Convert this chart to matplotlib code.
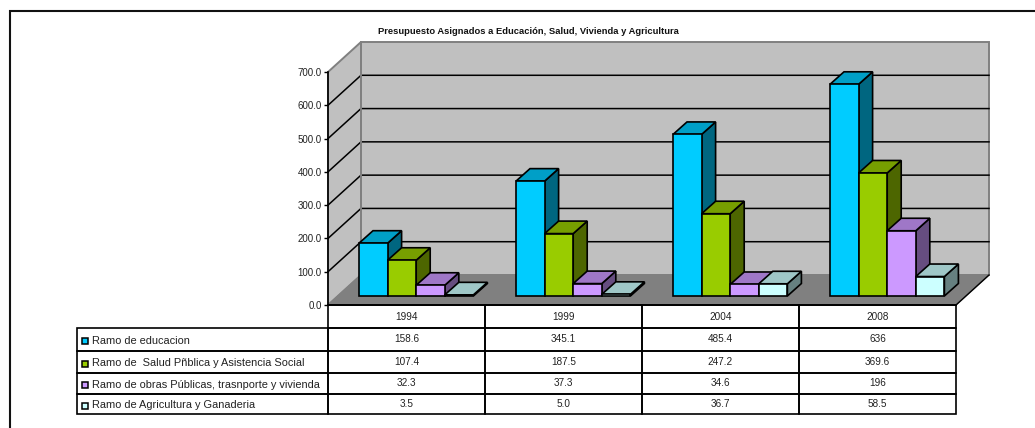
import matplotlib
matplotlib.use("Agg")
import matplotlib.pyplot as plt
from matplotlib.patches import Polygon, Rectangle
import matplotlib.colors as mc

plt.rcParams['font.family'] = ['Liberation Sans', 'DejaVu Sans']

title = "Presupuesto Asignados a Educación, Salud, Vivienda y Agricultura"
years = ["1994", "1999", "2004", "2008"]
series_names = ["Ramo de educacion",
                "Ramo de  Salud Pñblica y Asistencia Social",
                "Ramo de obras Públicas, trasnporte y vivienda",
                "Ramo de Agricultura y Ganaderia"]
educacion = [158.6, 345.1, 485.4, 636]
salud = [107.4, 187.5, 247.2, 369.6]
obras = [32.3, 37.3, 34.6, 196]
agricultura = [3.5, 5.0, 36.7, 58.5]
table_text = [["158.6", "345.1", "485.4", "636"],
              ["107.4", "187.5", "247.2", "369.6"],
              ["32.3", "37.3", "34.6", "196"],
              ["3.5", "5.0", "36.7", "58.5"]]
yticks = [0, 100, 200, 300, 400, 500, 600, 700]
colors = ["#00CCFF", "#99CC00", "#CC99FF", "#CCFFFF"]

W, H = 1035, 428
fig = plt.figure(figsize=(W/100, H/100), dpi=100)
fig.patch.set_facecolor("white")

# page frame: only the top and left edges fall inside the picture
bg = fig.add_axes([0, 0, 1, 1], zorder=0)
bg.set_xlim(0, W); bg.set_ylim(H, 0); bg.axis("off")
bg.plot([W, 9.5, 9.5], [10.5, 10.5, H], color="#111111", lw=1.5, solid_joinstyle="miter")

# plot axes: front plane of the 3D box
L, R, B, T = 328, 956, 305, 72
ax = fig.add_axes([L/W, 1-B/H, (R-L)/W, (B-T)/H], zorder=1)
ax.set_xlim(0, 4); ax.set_ylim(0, 700)
ax.patch.set_alpha(0)
for s in ["top", "right", "bottom"]:
    ax.spines[s].set_visible(False)
ax.spines["left"].set_linewidth(1.2)
ax.set_xticks([])
ax.set_yticks(yticks)
ax.set_yticklabels([f"{v:.1f}" for v in yticks], fontsize=7, color="#222222")
ax.tick_params(axis="y", length=3.2, width=1, pad=1.2)

px = 4/(R-L)      # x data units per pixel
py = 700/(B-T)    # y data units per pixel
dX, dY = 33*px, 30*py   # wall depth
top = 700

# walls
ax.add_patch(Polygon([(dX, dY), (4+dX, dY), (4+dX, top+dY), (dX, top+dY)], closed=True,
                     fc="#C0C0C0", ec="#808080", lw=1.4, clip_on=False, zorder=1))
ax.add_patch(Polygon([(0, 0), (dX, dY), (dX, top+dY), (0, top)], closed=True,
                     fc="#C0C0C0", ec="#808080", lw=1.4, clip_on=False, zorder=1))
ax.add_patch(Polygon([(0, 0), (4, 0), (4+dX, dY), (dX, dY)], closed=True,
                     fc="#808080", ec="#808080", lw=1, clip_on=False, zorder=1))
ax.plot([0, 4], [0, 0], color="black", lw=1.3, clip_on=False, zorder=2)
ax.plot([4, 4+dX], [0, dY], color="black", lw=1, clip_on=False, zorder=2)
for v in yticks[1:-1]:
    ax.plot([0, dX, 4+dX], [v, v+dY, v+dY], color="black", lw=1.1,
            clip_on=False, zorder=2, solid_joinstyle="miter")
ax.plot([dX, dX], [dY, top+dY], color="#808080", lw=1.4, clip_on=False, zorder=2)

# bars
def shade(c, f):
    r, g, b = mc.to_rgb(c)
    return (r*f, g*f, b*f)

bw = 28.6*px
off = 31*px
bx, by = 14*px, 12.5*py
base = 9*py
z = 3
for i in range(len(years)):
    for j, vals in enumerate([educacion, salud, obras, agricultura]):
        x0 = i + off + j*bw
        v = vals[i]
        ax.add_patch(Polygon([(x0+bw, base), (x0+bw+bx, base+by), (x0+bw+bx, base+by+v), (x0+bw, base+v)],
                             closed=True, fc=shade(colors[j], 0.5), ec="black", lw=1.2, clip_on=False, zorder=z))
        ax.add_patch(Polygon([(x0, base+v), (x0+bx, base+by+v), (x0+bw+bx, base+by+v), (x0+bw, base+v)],
                             closed=True, fc=shade(colors[j], 0.78), ec="black", lw=1.2, clip_on=False, zorder=z))
        ax.bar(x0, v, width=bw, bottom=base, align="edge", color=colors[j], edgecolor="black",
               linewidth=1.2, clip_on=False, zorder=z)
        z += 1

# data table below the axes
row_edges = [305, 328, 351, 373, 394, 414]
label_w = (L-77)*px
total_h = row_edges[-1] - row_edges[0]
cells = [[""] + years] + [[""] + r for r in table_text]
tb = ax.table(cellText=cells, colWidths=[label_w, 1, 1, 1, 1],
              bbox=[-label_w/4, -total_h/(B-T), (4+label_w)/4, total_h/(B-T)], cellLoc="center")
tb.auto_set_font_size(False)
tb.set_zorder(5)
for (r, c), cell in tb.get_celld().items():
    cell.set_height(row_edges[r+1]-row_edges[r])
    cell.set_linewidth(1.2)
    cell.set_edgecolor("black")
    cell.set_text_props(fontsize=7.2, color="#222222")
    cell.set_facecolor("none")
tb[(0, 0)].set_visible(False)

# legend keys and row labels
for j, (c, name) in enumerate(zip(colors, series_names)):
    yc = (row_edges[j+1] + row_edges[j+2])/2 + 1.5
    bg.add_patch(Rectangle((81.5, yc-3), 6, 6, fc=c, ec="black", lw=1.1, zorder=3))
    bg.text(91.5, yc, name, ha="left", va="center", fontsize=7.9, color="#222222", zorder=3)

fig.text(528.5/W, 1-31/H, title, ha="center", va="center", fontsize=6.75, fontweight="bold",
         color="#111111", zorder=6)

fig.savefig("out.png", dpi=100)
